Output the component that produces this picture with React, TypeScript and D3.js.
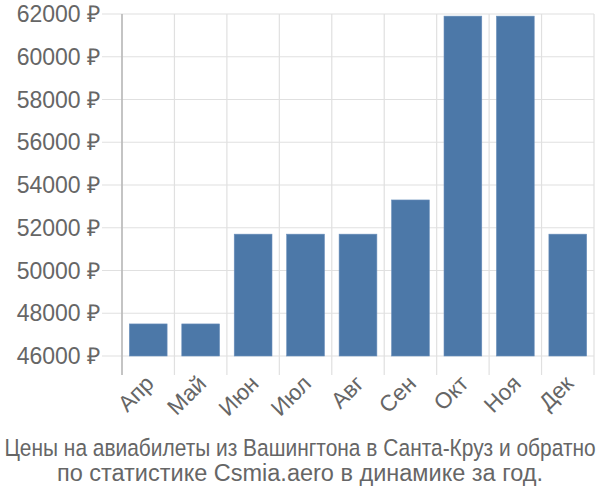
import React from "react";
import * as d3 from "d3";

const months = ["Апр", "Май", "Июн", "Июл", "Авг", "Сен", "Окт", "Ноя", "Дек"];
const prices = [47500, 47500, 51700, 51700, 51700, 53300, 61900, 61900, 51700];
const yTicks = [46000, 48000, 50000, 52000, 54000, 56000, 58000, 60000, 62000];
const titleLines = [
  "Цены на авиабилеты из Вашингтона в Санта-Круз и обратно",
  "по статистике Csmia.aero в динамике за год.",
];

export default function App() {
  const W = 600, H = 500;
  const left = 122, right = 594, top = 14, bottom = 356;
  const x = d3.scaleBand<string>().domain(months).range([left, right]).paddingInner(0.28).paddingOuter(0.14);
  const xGrid = d3.scaleBand<string>().domain(months).range([left, right]);
  const y = d3.scaleLinear().domain([46000, 62000]).range([bottom, top]);
  const font = "'Liberation Sans', Arial, sans-serif";
  return (
    <svg width={W} height={H} style={{ position: "absolute", left: 0, top: 0 }} fontFamily={font}>
      {yTicks.map((t) => (
        <g key={t}>
          <line x1={102} x2={right} y1={y(t)} y2={y(t)} stroke="#e0e0e0" strokeWidth={1.2} />
          <text x={100} y={y(t)} dy="0.35em" textAnchor="end" fontSize={23} fill="#666">
            {t} ₽
          </text>
        </g>
      ))}
      {months.map((m) => (
        <line key={m} x1={xGrid(m)!} x2={xGrid(m)!} y1={top} y2={375} stroke="#e0e0e0" strokeWidth={1.2} />
      ))}
      <line x1={right} x2={right} y1={top} y2={375} stroke="#e0e0e0" strokeWidth={1.2} />
      <line x1={left} x2={left} y1={top} y2={375} stroke="#aaa" strokeWidth={1.2} />
      {months.map((m, i) => (
        <rect key={m} x={x(m)} y={y(prices[i])} width={x.bandwidth()} height={bottom - y(prices[i])} fill="#4c78a8" stroke="#6a8fbb" strokeWidth={0.6} />
      ))}
      {months.map((m) => {
        const cx = xGrid(m)! + xGrid.bandwidth() / 2 + 7;
        const cy = 385;
        return (
          <text key={m} x={cx} y={cy} textAnchor="end" fontSize={22.5} fill="#666" transform={`rotate(-45 ${cx} ${cy})`}>
            {m}
          </text>
        );
      })}
      {titleLines.map((l, i) => (
        <text key={i} x={0} y={0} textAnchor="middle" fontSize={23.5} fill="#666"
          transform={`translate(300 ${456 + i * 25}) scale(${i === 0 ? 0.89 : 1} 1)`}>
          {l}
        </text>
      ))}
    </svg>
  );
}
